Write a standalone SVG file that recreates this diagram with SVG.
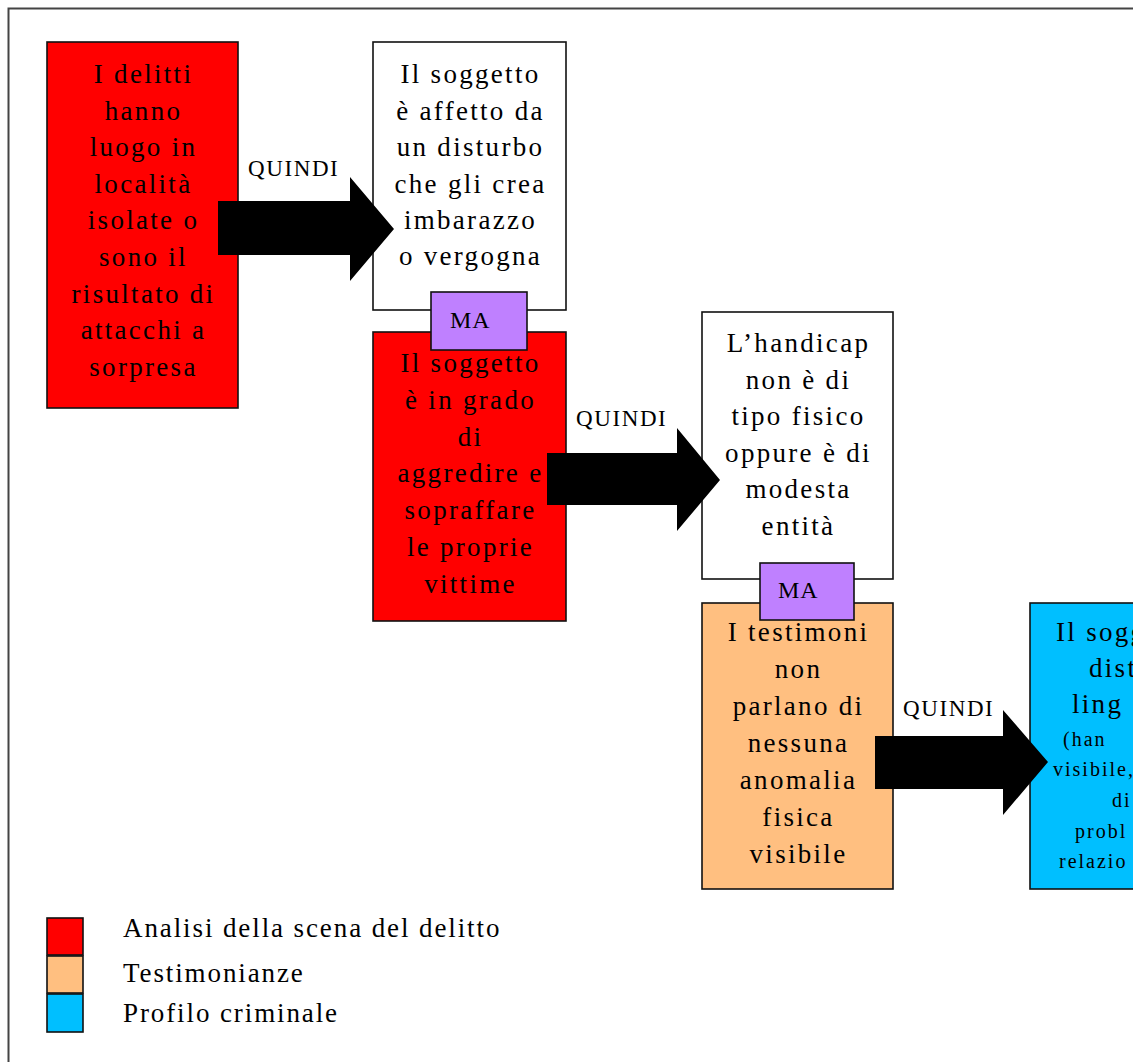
<svg xmlns="http://www.w3.org/2000/svg" width="1133" height="1062" viewBox="0 0 1133 1062">
  <style>
    .box { stroke: #111; stroke-width: 1.6; }
    .red { fill: #ff0000; }
    .white { fill: #ffffff; }
    .orange { fill: #ffbf80; }
    .blue { fill: #00bfff; }
    .ma { fill: #bf80ff; stroke: #111; stroke-width: 1.6; }
    .t { font-family: "Liberation Serif", "Times New Roman", serif; font-size: 27px; letter-spacing: 2.3px; fill: #000; text-anchor: middle; }
    .ts { font-family: "Liberation Serif", "Times New Roman", serif; font-size: 20px; letter-spacing: 2px; fill: #000; }
    .tl { font-family: "Liberation Serif", "Times New Roman", serif; font-size: 27px; letter-spacing: 1.9px; fill: #000; }
    .lbl { font-family: "Liberation Serif", "Times New Roman", serif; font-size: 23px; letter-spacing: 1.6px; fill: #000; }
    .malbl { font-family: "Liberation Serif", "Times New Roman", serif; font-size: 24px; letter-spacing: 1px; fill: #000; }
    .arrow { fill: #000; }
  </style>

  <!-- page frame -->
  <rect x="0" y="0" width="1133" height="1062" fill="#ffffff"/>
  <rect x="8.5" y="8.5" width="1200" height="1100" fill="#ffffff" stroke="#444" stroke-width="2"/>

  <!-- node 1: crime scene -->
  <g id="n1-delitti">
    <rect class="box red" x="47" y="42" width="191" height="366"/>
    <text class="t" x="143.5" y="83">I delitti</text>
    <text class="t" x="143.5" y="119.6">hanno</text>
    <text class="t" x="143.5" y="156.2">luogo in</text>
    <text class="t" x="143.5" y="192.8">località</text>
    <text class="t" x="143.5" y="229.4">isolate o</text>
    <text class="t" x="143.5" y="266">sono il</text>
    <text class="t" x="143.5" y="302.6">risultato di</text>
    <text class="t" x="143.5" y="339.2">attacchi a</text>
    <text class="t" x="143.5" y="375.8">sorpresa</text>
  </g>

  <!-- node 2: inference -->
  <g id="n2-disturbo">
    <rect class="box white" x="373" y="42" width="193" height="268"/>
    <text class="t" x="470.5" y="83">Il soggetto</text>
    <text class="t" x="470.5" y="119.6">è affetto da</text>
    <text class="t" x="470.5" y="156.2">un disturbo</text>
    <text class="t" x="470.5" y="192.8">che gli crea</text>
    <text class="t" x="470.5" y="229.4">imbarazzo</text>
    <text class="t" x="470.5" y="265">o vergogna</text>
  </g>

  <!-- node 3: crime scene -->
  <g id="n3-aggredire">
    <rect class="box red" x="373" y="332" width="193" height="289"/>
    <text class="t" x="470.5" y="372">Il soggetto</text>
    <text class="t" x="470.5" y="408.8">è in grado</text>
    <text class="t" x="470.5" y="445.6">di</text>
    <text class="t" x="470.5" y="482.4">aggredire e</text>
    <text class="t" x="470.5" y="519.2">sopraffare</text>
    <text class="t" x="470.5" y="556">le proprie</text>
    <text class="t" x="470.5" y="592.8">vittime</text>
  </g>

  <!-- node 4: inference -->
  <g id="n4-handicap">
    <rect class="box white" x="702" y="312" width="191" height="267"/>
    <text class="t" x="798.5" y="352">L’handicap</text>
    <text class="t" x="798.5" y="388.6">non è di</text>
    <text class="t" x="798.5" y="425.2">tipo fisico</text>
    <text class="t" x="798.5" y="461.8">oppure è di</text>
    <text class="t" x="798.5" y="498.4">modesta</text>
    <text class="t" x="798.5" y="535">entità</text>
  </g>

  <!-- node 5: testimony -->
  <g id="n5-testimoni">
    <rect class="box orange" x="702" y="603" width="191" height="286"/>
    <text class="t" x="798.5" y="641">I testimoni</text>
    <text class="t" x="798.5" y="678">non</text>
    <text class="t" x="798.5" y="715">parlano di</text>
    <text class="t" x="798.5" y="752">nessuna</text>
    <text class="t" x="798.5" y="789">anomalia</text>
    <text class="t" x="798.5" y="826">fisica</text>
    <text class="t" x="798.5" y="863">visibile</text>
  </g>

  <!-- node 6: criminal profile (runs past the page edge) -->
  <g id="n6-profilo">
    <rect class="box blue" x="1030" y="603" width="191" height="286"/>
    <text class="t" style="text-anchor:start" x="1056" y="641">Il sogg</text>
    <text class="t" style="text-anchor:start" x="1089" y="677">dist</text>
    <text class="t" style="text-anchor:start" x="1072" y="713">ling</text>
    <text class="ts" x="1063" y="746">(han</text>
    <text class="ts" x="1053" y="776">visibile,</text>
    <text class="ts" x="1112" y="807">di</text>
    <text class="ts" x="1075" y="838">probl</text>
    <text class="ts" x="1059" y="868">relazio</text>
  </g>

  <!-- "MA" joints -->
  <g id="ma-1">
    <rect class="ma" x="431" y="292" width="96" height="58"/>
    <text class="malbl" x="450" y="328">MA</text>
  </g>
  <g id="ma-2">
    <rect class="ma" x="760" y="563" width="94" height="57"/>
    <text class="malbl" x="778" y="598">MA</text>
  </g>

  <!-- connectors -->
  <g id="connectors">
    <polygon class="arrow" points="218,201 350,201 350,177 394,229 350,281 350,255 218,255"/>
    <polygon class="arrow" points="547,453 677,453 677,428 720,480 677,531 677,505 547,505"/>
    <polygon class="arrow" points="875,736 1003,736 1003,710 1048,762 1003,815 1003,789 875,789"/>
    <text class="lbl" x="248" y="176">QUINDI</text>
    <text class="lbl" x="576" y="426">QUINDI</text>
    <text class="lbl" x="903" y="716">QUINDI</text>
  </g>

  <!-- legend -->
  <g id="legend">
    <rect class="box red" x="47" y="918" width="36" height="37" stroke-width="2"/>
    <rect class="box orange" x="47" y="956" width="36" height="37" stroke-width="2"/>
    <rect class="box blue" x="47" y="994" width="36" height="38" stroke-width="2"/>
    <text class="tl" x="123" y="937">Analisi della scena del delitto</text>
    <text class="tl" x="123" y="982">Testimonianze</text>
    <text class="tl" x="123" y="1022">Profilo criminale</text>
  </g>
</svg>
